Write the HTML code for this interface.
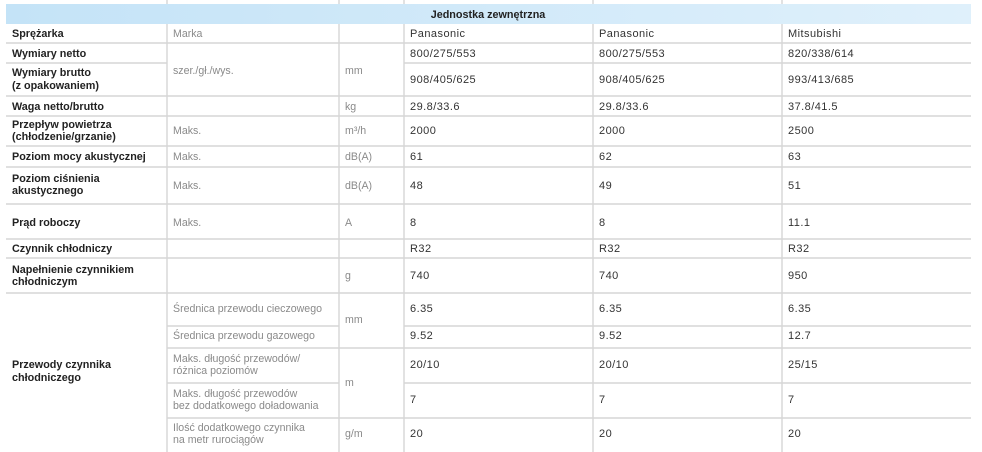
<!DOCTYPE html>
<html><head><meta charset="utf-8"><style>
html,body{margin:0;padding:0;background:#fff;width:982px;height:452px;overflow:hidden}
svg{display:block}
text{font-family:"Liberation Sans","DejaVu Sans",sans-serif;font-size:11px;letter-spacing:0.45px;fill:#333}
.b{font-weight:bold;fill:#222;font-size:10.8px;letter-spacing:0}
.g{fill:#8a8a8a;font-size:10.6px;letter-spacing:0}
</style></head><body>
<svg width="982" height="452" viewBox="0 0 982 452">
<defs><linearGradient id="hg" x1="0" x2="1"><stop offset="0" stop-color="#c4e3f7"/><stop offset="1" stop-color="#dff0fb"/></linearGradient></defs>
<g stroke="#d6d6d6" stroke-width="1.4">
<line x1="167" y1="0" x2="167" y2="4"/><line x1="339" y1="0" x2="339" y2="4"/><line x1="404" y1="0" x2="404" y2="4"/><line x1="593" y1="0" x2="593" y2="4"/><line x1="782" y1="0" x2="782" y2="4"/>
<line x1="167" y1="24" x2="167" y2="452"/><line x1="339" y1="24" x2="339" y2="452"/><line x1="404" y1="24" x2="404" y2="452"/><line x1="593" y1="24" x2="593" y2="452"/><line x1="782" y1="24" x2="782" y2="452"/>
<line x1="6" y1="43" x2="971" y2="43"/>
<line x1="6" y1="63" x2="167" y2="63"/><line x1="404" y1="63" x2="971" y2="63"/>
<line x1="6" y1="96" x2="971" y2="96"/>
<line x1="6" y1="116" x2="971" y2="116"/>
<line x1="6" y1="146" x2="971" y2="146"/>
<line x1="6" y1="167" x2="971" y2="167"/>
<line x1="6" y1="204" x2="971" y2="204"/>
<line x1="6" y1="239" x2="971" y2="239"/>
<line x1="6" y1="258" x2="971" y2="258"/>
<line x1="6" y1="293" x2="971" y2="293"/>
<line x1="167" y1="326" x2="339" y2="326"/><line x1="404" y1="326" x2="971" y2="326"/>
<line x1="167" y1="348" x2="971" y2="348"/>
<line x1="167" y1="383" x2="339" y2="383"/><line x1="404" y1="383" x2="971" y2="383"/>
<line x1="167" y1="418" x2="971" y2="418"/>
</g>
<rect x="6" y="4" width="965" height="20" fill="url(#hg)"/>
<text x="488" y="18" text-anchor="middle" class="b">Jednostka zewnętrzna</text>

<text x="12" y="37" class="b">Sprężarka</text>
<text x="173" y="37" class="g">Marka</text>
<text x="410" y="37">Panasonic</text><text x="599" y="37">Panasonic</text><text x="788" y="37">Mitsubishi</text>

<text x="12" y="57" class="b">Wymiary netto</text>
<text x="410" y="57">800/275/553</text><text x="599" y="57">800/275/553</text><text x="788" y="57">820/338/614</text>
<text x="173" y="74" class="g">szer./gł./wys.</text>
<text x="345" y="74" class="g">mm</text>
<text x="12" y="76" class="b">Wymiary brutto</text>
<text x="12" y="89" class="b">(z opakowaniem)</text>
<text x="410" y="83">908/405/625</text><text x="599" y="83">908/405/625</text><text x="788" y="83">993/413/685</text>

<text x="12" y="110" class="b">Waga netto/brutto</text>
<text x="345" y="110" class="g">kg</text>
<text x="410" y="110">29.8/33.6</text><text x="599" y="110">29.8/33.6</text><text x="788" y="110">37.8/41.5</text>

<text x="12" y="128" class="b">Przepływ powietrza</text>
<text x="12" y="140" class="b">(chłodzenie/grzanie)</text>
<text x="173" y="134" class="g">Maks.</text><text x="345" y="134" class="g">m³/h</text>
<text x="410" y="134">2000</text><text x="599" y="134">2000</text><text x="788" y="134">2500</text>

<text x="12" y="160" class="b">Poziom mocy akustycznej</text>
<text x="173" y="160" class="g">Maks.</text><text x="345" y="160" class="g">dB(A)</text>
<text x="410" y="160">61</text><text x="599" y="160">62</text><text x="788" y="160">63</text>

<text x="12" y="182" class="b">Poziom ciśnienia</text>
<text x="12" y="194" class="b">akustycznego</text>
<text x="173" y="189" class="g">Maks.</text><text x="345" y="189" class="g">dB(A)</text>
<text x="410" y="189">48</text><text x="599" y="189">49</text><text x="788" y="189">51</text>

<text x="12" y="226" class="b">Prąd roboczy</text>
<text x="173" y="226" class="g">Maks.</text><text x="345" y="226" class="g">A</text>
<text x="410" y="226">8</text><text x="599" y="226">8</text><text x="788" y="226">11.1</text>

<text x="12" y="252" class="b">Czynnik chłodniczy</text>
<text x="410" y="252">R32</text><text x="599" y="252">R32</text><text x="788" y="252">R32</text>

<text x="12" y="273" class="b">Napełnienie czynnikiem</text>
<text x="12" y="285" class="b">chłodniczym</text>
<text x="345" y="279" class="g">g</text>
<text x="410" y="279">740</text><text x="599" y="279">740</text><text x="788" y="279">950</text>

<text x="12" y="368" class="b">Przewody czynnika</text>
<text x="12" y="381" class="b">chłodniczego</text>

<text x="173" y="312" class="g">Średnica przewodu cieczowego</text>
<text x="345" y="323" class="g">mm</text>
<text x="410" y="312">6.35</text><text x="599" y="312">6.35</text><text x="788" y="312">6.35</text>
<text x="173" y="339" class="g">Średnica przewodu gazowego</text>
<text x="410" y="339">9.52</text><text x="599" y="339">9.52</text><text x="788" y="339">12.7</text>

<text x="173" y="362" class="g">Maks. długość przewodów/</text>
<text x="173" y="374" class="g">różnica poziomów</text>
<text x="345" y="386" class="g">m</text>
<text x="410" y="368">20/10</text><text x="599" y="368">20/10</text><text x="788" y="368">25/15</text>
<text x="173" y="397" class="g">Maks. długość przewodów</text>
<text x="173" y="409" class="g">bez dodatkowego doładowania</text>
<text x="410" y="403">7</text><text x="599" y="403">7</text><text x="788" y="403">7</text>

<text x="173" y="431" class="g">Ilość dodatkowego czynnika</text>
<text x="173" y="443" class="g">na metr rurociągów</text>
<text x="345" y="437" class="g">g/m</text>
<text x="410" y="437">20</text><text x="599" y="437">20</text><text x="788" y="437">20</text>
</svg>
</body></html>
